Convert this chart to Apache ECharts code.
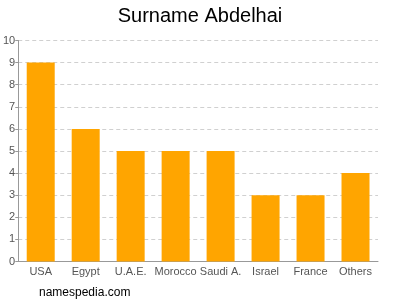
<!DOCTYPE html>
<html><head><meta charset="utf-8">
<script src="https://cdn.jsdelivr.net/npm/echarts@6/dist/echarts.min.js"></script>
<style>html,body{margin:0;padding:0;background:#fff}#c{width:400px;height:300px}</style>
</head><body><div id="c"></div>
<script>
var categories = ["USA","Egypt","U.A.E.","Morocco","Saudi A.","Israel","France","Others"];
var values = [9,6,5,5,5,3,3,4];
var yTicks = [0,1,2,3,4,5,6,7,8,9,10];
var chart = echarts.init(document.getElementById('c'), null, {renderer:'canvas'});
chart.setOption({
  animation:false,
  title:[{text:'Surname Abdelhai',left:'center',top:1,textStyle:{fontFamily:'Liberation Sans, Arial, sans-serif',fontSize:20,fontWeight:'normal',color:'#000'}},
         {text:'namespedia.com',left:34,top:282,textStyle:{fontFamily:'Liberation Sans, Arial, sans-serif',fontSize:12,fontWeight:'normal',color:'#000'}}],
  grid:{left:18,right:22,top:40.5,bottom:38.5,containLabel:false},
  xAxis:{type:'category',data:categories,
    axisLine:{lineStyle:{color:'#999'}},axisTick:{show:false},
    axisLabel:{color:'#555',fontSize:11,fontFamily:'Liberation Sans, Arial, sans-serif',margin:5,interval:0}},
  yAxis:{type:'value',min:0,max:10,interval:1,
    axisLine:{show:true,lineStyle:{color:'#999'}},
    axisTick:{show:true,length:3,lineStyle:{color:'#999'}},
    axisLabel:{color:'#555',fontSize:11,fontFamily:'Liberation Sans, Arial, sans-serif',margin:3,
      formatter:function(v){return yTicks.indexOf(v)>=0?String(v):'';}},
    splitLine:{show:true,lineStyle:{color:'#d0d0d0',type:[4,3]}}},
  series:[{type:'bar',data:values,barWidth:28,itemStyle:{color:'#FFA500'}}]
});
</script></body></html>
